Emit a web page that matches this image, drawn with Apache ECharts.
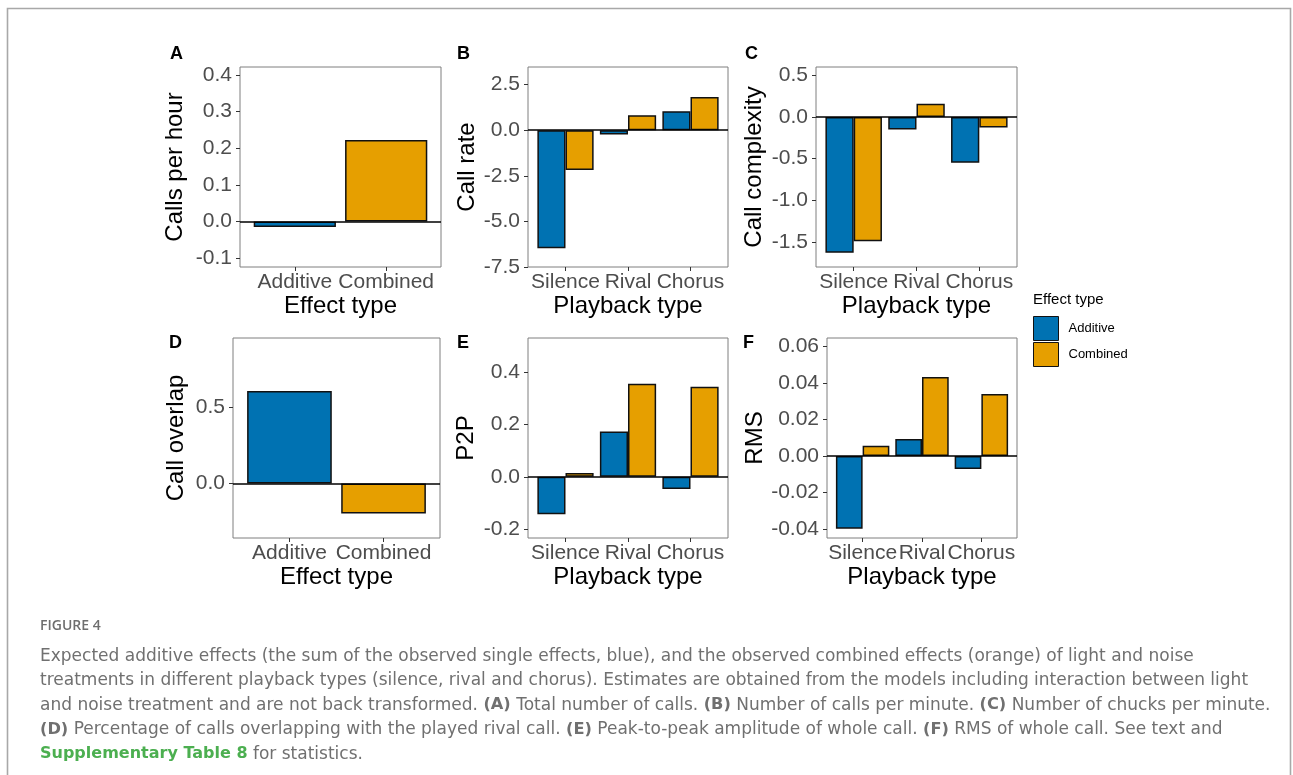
<!DOCTYPE html>
<html>
<head>
<meta charset="utf-8">
<script src="https://cdn.jsdelivr.net/npm/echarts@6/dist/echarts.min.js"></script>
<style>
html,body{margin:0;padding:0;background:#fff;}
#chart{width:1293px;height:775px;}
</style>
</head>
<body>
<div id="chart"></div>
<script>
// ---------------- data ----------------
const effectTypes = ['Additive', 'Combined'];
const playbackTypes = ['Silence', 'Rival', 'Chorus'];

// A: calls per hour (by effect type)
const callsPerHour = [-0.015, 0.223];
// D: call overlap (by effect type)
const callOverlap = [0.607, -0.197];

// B: call rate (by playback type)
const callRateAdditive = [-6.47, -0.24, 1.04];
const callRateCombined = [-2.19, 0.82, 1.82];
// C: call complexity
const complexityAdditive = [-1.63, -0.15, -0.55];
const complexityCombined = [-1.49, 0.16, -0.127];
// E: P2P
const p2pAdditive = [-0.143, 0.173, -0.047];
const p2pCombined = [0.015, 0.356, 0.345];
// F: RMS
const rmsAdditive = [-0.0398, 0.0093, -0.0071];
const rmsCombined = [0.0057, 0.0432, 0.034];

// tick labels
const ticksA = [-0.1, 0.0, 0.1, 0.2, 0.3, 0.4];
const ticksB = [-7.5, -5.0, -2.5, 0.0, 2.5];
const ticksC = [-1.5, -1.0, -0.5, 0.0, 0.5];
const ticksD = [0.0, 0.5];
const ticksE = [-0.2, 0.0, 0.2, 0.4];
const ticksF = [-0.04, -0.02, 0.00, 0.02, 0.04, 0.06];

// ---------------- style ----------------
const FONT = 'Liberation Sans, Arial, sans-serif';
const CAPFONT = 'DejaVu Sans';
const BLUE = '#0072B2';
const ORANGE = '#E69F00';

const panels = [
  {letter:'A', lx:170, ly:60, grid:{left:240, top:67, width:201, height:200},
   cats: effectTypes, mode:'single', add:[callsPerHour[0]], comb:[callsPerHour[1]],
   ymin:-0.124, ymax:0.422, ticks:ticksA, dec:1, xName:'Effect type', yName:'Calls per hour', yGap:53},
  {letter:'B', lx:457, ly:60, grid:{left:528, top:67, width:200, height:200},
   cats: playbackTypes, mode:'dodge', add:callRateAdditive, comb:callRateCombined,
   ymin:-7.5, ymax:3.46, ticks:ticksB, dec:1, xName:'Playback type', yName:'Call rate', yGap:49},
  {letter:'C', lx:745, ly:60, grid:{left:816, top:67, width:201, height:200},
   cats: playbackTypes, mode:'dodge', add:complexityAdditive, comb:complexityCombined,
   ymin:-1.8, ymax:0.6, ticks:ticksC, dec:1, xName:'Playback type', yName:'Call complexity', yGap:50},
  {letter:'D', lx:169, ly:349, grid:{left:233, top:338, width:207, height:200},
   cats: effectTypes, mode:'single', add:[callOverlap[0]], comb:[callOverlap[1]],
   ymin:-0.358, ymax:0.954, ticks:ticksD, dec:1, xName:'Effect type', yName:'Call overlap', yGap:45},
  {letter:'E', lx:457, ly:349, grid:{left:528, top:338, width:200, height:200},
   cats: playbackTypes, mode:'dodge', add:p2pAdditive, comb:p2pCombined,
   ymin:-0.234, ymax:0.531, ticks:ticksE, dec:1, xName:'Playback type', yName:'P2P', yGap:50},
  {letter:'F', lx:743, ly:349, grid:{left:827, top:338, width:190, height:200},
   cats: playbackTypes, mode:'dodge', add:rmsAdditive, comb:rmsCombined,
   ymin:-0.0448, ymax:0.0646, ticks:ticksF, dec:2, xName:'Playback type', yName:'RMS', yGap:60}
];

const grids = [], xAxes = [], yAxes = [], series = [], graphics = [];

panels.forEach((p, i) => {
  const n = p.cats.length;
  const xmax = n + 0.6;
  const pxPerUnit = p.grid.width / (xmax - 0.4);
  const catPos = p.cats.map((c, k) => k + 1);
  grids.push(Object.assign({show:true, borderColor:'#7f7f7f', borderWidth:1, backgroundColor:'rgba(0,0,0,0)', containLabel:false}, p.grid));
  xAxes.push({
    gridIndex:i, type:'value', min:0.4, max:xmax, position:'bottom',
    axisLine:{show:false, onZero:false}, splitLine:{show:false},
    axisTick:{show:true, length:4, customValues:catPos, lineStyle:{color:'#333', width:1}},
    axisLabel:{customValues:catPos, formatter:(v) => p.cats[Math.round(v) - 1],
      fontSize:21, color:'#4d4d4d', margin:5, fontFamily:FONT},
    name:p.xName, nameLocation:'middle', nameGap:27,
    nameTextStyle:{fontSize:24, color:'#000', fontFamily:FONT}
  });
  yAxes.push({
    gridIndex:i, type:'value', min:p.ymin, max:p.ymax, position:'left',
    axisLine:{show:false, onZero:false}, splitLine:{show:false},
    axisTick:{show:true, length:4, customValues:p.ticks, lineStyle:{color:'#333', width:1}},
    axisLabel:{customValues:p.ticks, formatter:(v) => Number(v).toFixed(p.dec),
      fontSize:21, color:'#4d4d4d', margin:8, fontFamily:FONT},
    name:p.yName, nameLocation:'middle', nameGap:p.yGap, nameRotate:90,
    nameTextStyle:{fontSize:24, color:'#000', fontFamily:FONT}
  });
  let addData, combData, bw, gap;
  if (p.mode === 'single') {
    addData = [[1, p.add[0]]];
    combData = [[2, p.comb[0]]];
    bw = 0.9 * pxPerUnit;
    gap = '-100%';
  } else {
    addData = p.add.map((v, k) => [k + 1, v]);
    combData = p.comb.map((v, k) => [k + 1, v]);
    bw = 0.45 * pxPerUnit;
    gap = '0%';
  }
  series.push({
    type:'bar', name:'Additive', xAxisIndex:i, yAxisIndex:i, data:addData,
    barWidth:bw, barGap:gap,
    itemStyle:{color:BLUE, borderColor:'#111', borderWidth:1.5},
    emphasis:{disabled:true}
  });
  series.push({
    type:'bar', name:'Combined', xAxisIndex:i, yAxisIndex:i, data:combData,
    barWidth:bw, barGap:gap,
    itemStyle:{color:ORANGE, borderColor:'#111', borderWidth:1.5},
    emphasis:{disabled:true}
  });
  // zero reference line (hline at y = 0), drawn above the bars
  series.push({
    type:'line', name:'zero', xAxisIndex:i, yAxisIndex:i, data:[],
    silent:true, legendHoverLink:false, z:5,
    markLine:{silent:true, symbol:'none', animation:false, label:{show:false},
      lineStyle:{color:'#000', width:1.6, type:'solid'}, data:[{yAxis:0}]}
  });
  graphics.push({type:'text', left:p.lx, top:p.ly - 15,
    style:{text:p.letter, font:'bold 18px ' + FONT, fill:'#000'}});
});

// figure frame
graphics.push({type:'rect', shape:{x:7.5, y:8.5, width:1283, height:820},
  style:{fill:'none', stroke:'#a8a8a8', lineWidth:1.6}, silent:true, z:-1});
// legend title
graphics.push({type:'text', left:1033, top:292, style:{text:'Effect type', font:'15px ' + FONT, fill:'#000'}});
// caption
graphics.push({type:'text', left:40, top:619, style:{text:'FIGURE 4', font:'600 14px Open Sans', fill:'#6e6e6e'}});
const capLines = [
  'Expected additive effects (the sum of the observed single effects, blue), and the observed combined effects (orange) of light and noise',
  'treatments in different playback types (silence, rival and chorus). Estimates are obtained from the models including interaction between light',
  'and noise treatment and are not back transformed. {b|(A)} Total number of calls. {b|(B)} Number of calls per minute. {b|(C)} Number of chucks per minute.',
  '{b|(D)} Percentage of calls overlapping with the played rival call. {b|(E)} Peak-to-peak amplitude of whole call. {b|(F)} RMS of whole call. See text and',
  '{g|Supplementary Table 8} for statistics.'
];
graphics.push({type:'text', x:40, y:644,
  style:{text:capLines.join('\n'), fontFamily:CAPFONT, fontSize:17, fill:'#707070', lineHeight:24.5,
    rich:{
      b:{fontFamily:CAPFONT, fontSize:16.2, fontWeight:'bold', fill:'#707070', lineHeight:24.5},
      g:{fontFamily:CAPFONT, fontSize:16, fontWeight:'bold', fill:'#4caf50', lineHeight:24.5}
    }}});

const chart = echarts.init(document.getElementById('chart'), null, {renderer:'canvas'});
chart.setOption({
  animation:false,
  backgroundColor:'#fff',
  grid:grids, xAxis:xAxes, yAxis:yAxes, series:series,
  legend:{orient:'vertical', left:1033, top:316, padding:0, itemWidth:25, itemHeight:24, itemGap:1,
    icon:'rect', selectedMode:false, data:['Additive', 'Combined'],
    itemStyle:{borderColor:'#111', borderWidth:1},
    textStyle:{fontSize:13, color:'#000', fontFamily:FONT, padding:[0,0,0,5]}},
  graphic:graphics
});
</script>
</body>
</html>
